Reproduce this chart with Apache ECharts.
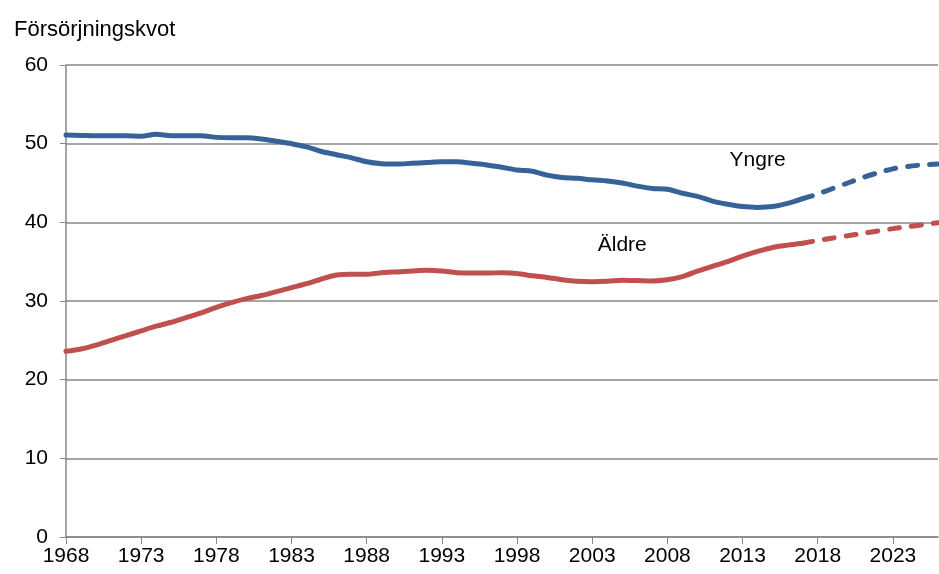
<!DOCTYPE html>
<html>
<head>
<meta charset="utf-8">
<script src="https://cdn.jsdelivr.net/npm/echarts@6/dist/echarts.min.js"></script>
<style>
  html, body { margin: 0; padding: 0; background: #fff; }
  #chart { width: 939px; height: 574px; }
</style>
</head>
<body>
<div id="chart"></div>
<script>
// år 1968-2026
const years = [];
for (let y = 1968; y <= 2026; y++) years.push(String(y));

const yngre = [51.1, 51.05, 51.0, 51.0, 51.0, 50.95, 51.2, 51.0, 51.0, 51.0,
  50.8, 50.75, 50.75, 50.6, 50.3, 50.0, 49.6, 49.0, 48.6, 48.2,
  47.7, 47.45, 47.4, 47.5, 47.6, 47.7, 47.7, 47.5, 47.3, 47.0,
  46.65, 46.5, 46.0, 45.7, 45.6, 45.4, 45.25, 45.0, 44.6, 44.3,
  44.2, 43.7, 43.3, 42.7, 42.3, 42.0, 41.9, 42.0, 42.4, 43.0,
  43.6, 44.3, 45.0, 45.7, 46.3, 46.8, 47.1, 47.3, 47.4];

const aldre = [23.6, 23.9, 24.4, 25.0, 25.6, 26.2, 26.8, 27.3, 27.9, 28.5,
  29.2, 29.8, 30.3, 30.7, 31.2, 31.7, 32.2, 32.8, 33.3, 33.4,
  33.4, 33.6, 33.7, 33.8, 33.9, 33.8, 33.6, 33.55, 33.55, 33.6,
  33.5, 33.2, 33.0, 32.7, 32.5, 32.45, 32.5, 32.65, 32.6, 32.55,
  32.7, 33.1, 33.8, 34.4, 35.0, 35.7, 36.3, 36.8, 37.1, 37.35,
  37.7, 38.0, 38.3, 38.6, 38.9, 39.2, 39.45, 39.7, 39.95];

const lastActual = '2017'; // prognos efter detta år

const chart = echarts.init(document.getElementById('chart'));

// dela upp i utfall och prognos
const splitAt = years.indexOf(lastActual);
const actual = arr => arr.map((v, i) => i <= splitAt ? v : null);
const prognos = arr => arr.map((v, i) => i >= splitAt ? v : null);

const blue = '#366298';
const red = '#C0504D';
const gray = '#878787';
const font = 'Liberation Sans, Arial, sans-serif';

function line(name, data, color, dashed) {
  return {
    name: name,
    type: 'line',
    data: data,
    smooth: 0.3,
    symbol: 'none',
    connectNulls: false,
    lineStyle: {
      color: color,
      width: 5,
      type: dashed ? [10, 12] : 'solid',
      cap: 'round'
    },
    z: 3
  };
}

function tag(text, coord) {
  return {
    symbolSize: 0,
    label: { show: true, position: 'inside', formatter: '{b}', color: '#000', fontSize: 21, fontFamily: font },
    data: [{ name: text, coord: coord }]
  };
}

const ySeries = line('Yngre', actual(yngre), blue, false);
ySeries.markPoint = tag('Yngre', ['2014', 47.9]);
const aSeries = line('Äldre', actual(aldre), red, false);
aSeries.markPoint = tag('Äldre', ['2005', 37.1]);

chart.setOption({
  animation: false,
  textStyle: { fontFamily: font },
  grid: { left: 66, right: 1, top: 65, bottom: 37 },
  title: {
    text: 'Försörjningskvot',
    left: 9,
    top: 14,
    textStyle: { fontSize: 22, fontWeight: 'normal', color: '#000', fontFamily: font }
  },
  xAxis: {
    type: 'category',
    data: years,
    boundaryGap: false,
    axisLine: { lineStyle: { color: gray, width: 1.5 } },
    axisTick: { interval: 4, length: 7, lineStyle: { color: gray } },
    axisLabel: { interval: 4, color: '#000', fontSize: 21, margin: 9 },
    splitLine: { show: false }
  },
  yAxis: {
    type: 'value',
    min: 0,
    max: 60,
    interval: 10,
    axisLine: { show: true, lineStyle: { color: gray, width: 1.5 } },
    axisTick: { show: true, length: 6, lineStyle: { color: gray } },
    axisLabel: { color: '#000', fontSize: 21, margin: 18 },
    splitLine: { lineStyle: { color: gray, width: 1.5 } }
  },
  series: [
    ySeries,
    line('Yngre prognos', prognos(yngre), blue, true),
    aSeries,
    line('Äldre prognos', prognos(aldre), red, true)
  ]
});
</script>
</body>
</html>
